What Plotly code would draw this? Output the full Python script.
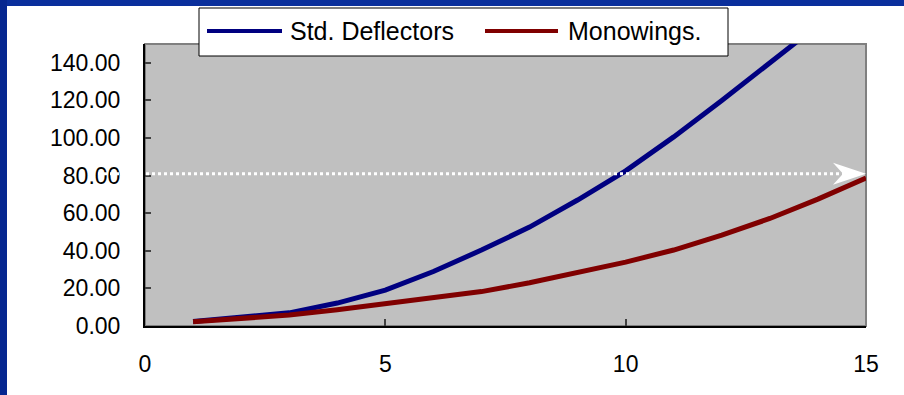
import plotly.graph_objects as go

# ---- data ----
x_vals = [1, 2, 3, 4, 5, 6, 7, 8, 9, 10, 11, 12, 13, 14, 15]
std_deflectors = [2.4, 4.5, 7.0, 12.2, 19.1, 29.0, 40.4, 52.6, 67.0, 82.5, 100.6, 120.0, 140.5, 160.5, 180.0]
monowings = [2.3, 4.0, 5.8, 8.6, 11.7, 14.8, 18.3, 23.0, 28.3, 34.0, 40.4, 48.3, 57.2, 67.5, 78.7]
series_names = ["Std. Deflectors", "Monowings."]
series_colors = ["#000080", "#800000"]
x_ticks = [0, 5, 10, 15]
y_ticks = [0, 20, 40, 60, 80, 100, 120, 140]
y_tick_text = [f"{v:.2f}" for v in y_ticks]
target_level = 81

W, H = 904, 395
L, R, T, B = 145, 866, 44, 326


def px(xp):
    return (xp - L) / (R - L)


def py(yp):
    return (B - yp) / (B - T)


FONT = "Liberation Sans, Arial, sans-serif"

fig = go.Figure()
for name, ys, col in zip(series_names, [std_deflectors, monowings], series_colors):
    fig.add_trace(go.Scatter(x=x_vals, y=ys, mode="lines", name=name,
                             line=dict(color=col, width=5), showlegend=False))

shapes = []
# blue frame strips
shapes.append(dict(type="rect", xref="paper", yref="paper", x0=px(0), x1=px(W), y0=py(0), y1=py(6),
                   fillcolor="#0a2f9c", line=dict(width=0), layer="above"))
shapes.append(dict(type="rect", xref="paper", yref="paper", x0=px(0), x1=px(7), y0=py(H), y1=py(0),
                   fillcolor="#062790", line=dict(width=0), layer="above"))
# plot border (gray top/right)
shapes.append(dict(type="rect", xref="x domain", yref="y domain", x0=0, x1=1, y0=0, y1=1,
                   line=dict(color="#808080", width=2), layer="below"))
# dotted target line
shapes.append(dict(type="line", xref="paper", yref="y", x0=px(92), x1=px(845), y0=target_level, y1=target_level,
                   line=dict(color="white", width=3, dash="dot"), layer="above"))
# arrow head
shapes.append(dict(type="path", xref="x", yref="y", xsizemode="pixel", ysizemode="pixel",
                   xanchor=15, yanchor=target_level,
                   path="M0,0 L-33,11 L-23,0 L-33,-11 Z",
                   fillcolor="white", line=dict(width=0), layer="above"))
# legend box
shapes.append(dict(type="rect", xref="paper", yref="paper", x0=px(199), x1=px(728), y0=py(56), y1=py(8),
                   fillcolor="white", line=dict(color="black", width=1), layer="above"))
leg_lines = [(207, 282), (485, 558)]
for (a, b), col in zip(leg_lines, series_colors):
    shapes.append(dict(type="line", xref="paper", yref="paper", x0=px(a), x1=px(b), y0=py(31), y1=py(31),
                       line=dict(color=col, width=4), layer="above"))

annotations = []
for xt, name in zip([288, 566], series_names):
    annotations.append(dict(xref="paper", yref="paper", x=px(xt), y=py(31), text=name, showarrow=False,
                            xanchor="left", yanchor="middle", font=dict(family=FONT, size=25, color="black")))

fig.update_layout(
    width=W, height=H,
    margin=dict(l=L, r=W - R, t=T, b=H - B),
    paper_bgcolor="white", plot_bgcolor="#C0C0C0",
    shapes=shapes, annotations=annotations,
    showlegend=False,
    xaxis=dict(range=[0, 15], tickvals=x_ticks, ticks="inside", ticklen=7, tickcolor="#404040", tickwidth=2,
               showgrid=False, zeroline=False, showline=True, linecolor="black", linewidth=2,
               tickfont=dict(family=FONT, size=23, color="black"), ticklabelstandoff=16),
    yaxis=dict(range=[0, 150], tickvals=y_ticks, ticktext=y_tick_text, ticks="inside", ticklen=6,
               tickcolor="#404040", tickwidth=2,
               showgrid=False, zeroline=False, showline=True, linecolor="black", linewidth=2,
               tickfont=dict(family=FONT, size=23, color="black"), ticklabelstandoff=18),
)

fig.write_html("out.html")
